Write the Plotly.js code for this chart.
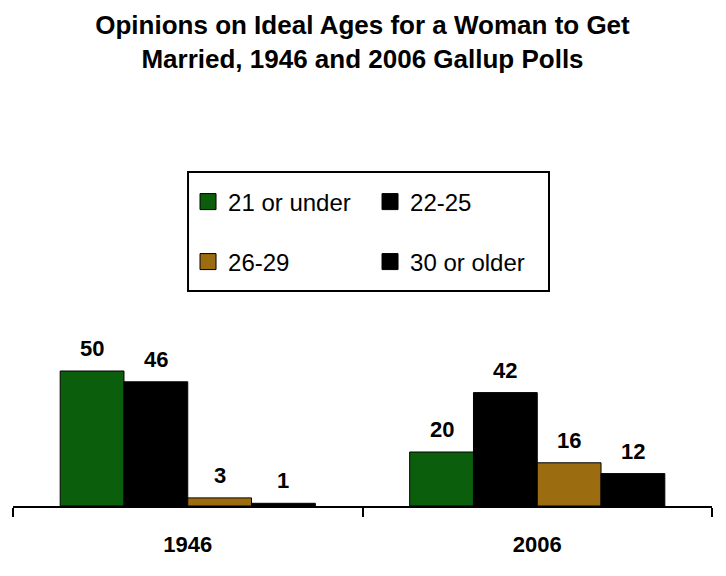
<!DOCTYPE html>
<html>
<head>
<meta charset="utf-8">
<script src="https://cdn.plot.ly/plotly-3.0.1.min.js"></script>
<style>
html,body{margin:0;padding:0;background:#ffffff;}
#chart{width:726px;height:576px;}
</style>
</head>
<body>
<div id="chart"></div>
<script>
var years = ["1946", "2006"];
var seriesNames = ["21 or under", "22-25", "26-29", "30 or older"];
var under21 = [50, 20];
var age22to25 = [46, 42];
var age26to29 = [3, 16];
var over30 = [1, 12];
var seriesValues = [under21, age22to25, age26to29, over30];
var seriesColors = ["#0b5e0b", "#000000", "#9c6c10", "#000000"];
var legendRows = ["legend", "legend", "legend2", "legend2"];

var FONT = "Liberation Sans, Arial, sans-serif";
var bargap = 0.27;

var traces = [];
seriesValues.forEach(function (vals, i) {
  traces.push({
    type: "bar",
    x: years,
    y: vals,
    name: seriesNames[i],
    marker: {color: seriesColors[i], line: {color: "#000000", width: 1}},
    showlegend: false,
    hoverinfo: "x+y+name"
  });
});
// legend-only entries (larger square swatches)
seriesNames.forEach(function (nm, i) {
  traces.push({
    type: "scatter",
    mode: "markers",
    x: [null],
    y: [null],
    name: nm,
    legend: legendRows[i],
    marker: {symbol: "square", size: 16, color: seriesColors[i], line: {color: "#000000", width: 1}},
    hoverinfo: "skip"
  });
});

var annotations = [];
seriesValues.forEach(function (vals, si) {
  vals.forEach(function (v, gi) {
    annotations.push({
      x: gi + (si - 1.5) * (1 - bargap) / 4,
      y: v,
      xref: "x",
      yref: "y",
      text: String(v),
      showarrow: false,
      yanchor: "bottom",
      yshift: 8,
      font: {family: FONT, size: 22, color: "#000000", weight: "bold"}
    });
  });
});

var layout = {
  width: 726,
  height: 576,
  paper_bgcolor: "#ffffff",
  plot_bgcolor: "#ffffff",
  margin: {l: 13, r: 14, t: 300, b: 70},
  title: {
    text: "Opinions on Ideal Ages for a Woman to Get<br>Married, 1946 and 2006 Gallup Polls",
    font: {family: FONT, size: 26, color: "#000000", weight: "bold"},
    x: 0.5,
    xanchor: "center",
    xref: "paper",
    y: 0.941,
    yanchor: "middle",
    yref: "container"
  },
  barmode: "group",
  bargap: bargap,
  bargroupgap: 0,
  xaxis: {
    type: "category",
    range: [-0.5, 1.5],
    showline: true,
    linecolor: "#000000",
    linewidth: 2,
    ticks: "outside",
    tickson: "boundaries",
    ticklen: 9,
    tickwidth: 2,
    tickcolor: "#000000",
    ticklabelstandoff: 18,
    tickfont: {family: FONT, size: 22, color: "#000000", weight: "bold"},
    showgrid: false,
    zeroline: false,
    fixedrange: true
  },
  yaxis: {
    range: [0, 76.3],
    visible: false,
    showgrid: false,
    zeroline: false,
    fixedrange: true
  },
  legend: {
    orientation: "h",
    x: 0.2504,
    xanchor: "left",
    y: 1.4757,
    yanchor: "middle",
    bgcolor: "rgba(0,0,0,0)",
    borderwidth: 0,
    entrywidth: 137,
    font: {family: FONT, size: 24, color: "#000000"},
    traceorder: "normal"
  },
  legend2: {
    orientation: "h",
    x: 0.2504,
    xanchor: "left",
    y: 1.1845,
    yanchor: "middle",
    bgcolor: "rgba(0,0,0,0)",
    borderwidth: 0,
    entrywidth: 137,
    font: {family: FONT, size: 24, color: "#000000"},
    traceorder: "normal"
  },
  shapes: [{
    type: "rect",
    xref: "paper",
    yref: "paper",
    x0: 0.2504, x1: 0.7668,
    y0: 1.0437, y1: 1.6214,
    line: {color: "#000000", width: 2},
    fillcolor: "rgba(0,0,0,0)"
  }],
  annotations: annotations,
  showlegend: true
};

Plotly.newPlot("chart", traces, layout, {displayModeBar: false, staticPlot: true});
</script>
</body>
</html>
